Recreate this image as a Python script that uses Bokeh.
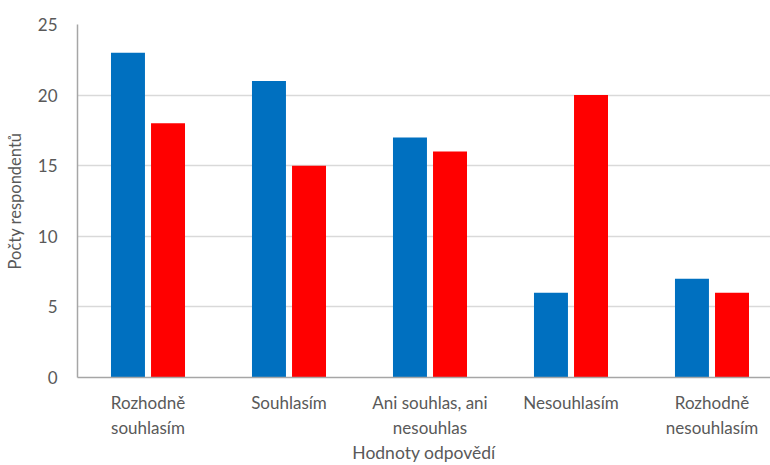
import numpy as np
from bokeh.plotting import figure
from bokeh.models import Range1d, FixedTicker, ColumnDataSource
from bokeh.embed import file_html
from bokeh.resources import INLINE

categories = ["Rozhodně\nsouhlasím", "Souhlasím", "Ani souhlas, ani\nnesouhlas", "Nesouhlasím", "Rozhodně\nnesouhlasím"]
blue_values = [23, 21, 17, 6, 7]
red_values = [18, 15, 16, 20, 6]
y_ticks = [0, 5, 10, 15, 20, 25]

centers = np.arange(len(categories)) + 0.5
FONT = "Lato"
GREY = "#595959"

p = figure(width=770, height=465, output_backend="svg", toolbar_location=None,
           x_range=Range1d(0, 4.915), y_range=Range1d(0, 25),
           min_border_left=77, min_border_right=0, min_border_top=24, min_border_bottom=87)
p.outline_line_color = None

src1 = ColumnDataSource(dict(x=centers - 0.142, b=blue_values))
src2 = ColumnDataSource(dict(x=centers + 0.142, r=red_values))
p.vbar(x="x", top="b", width=0.241, source=src1, fill_color="#0070C0", line_color=None)
p.vbar(x="x", top="r", width=0.241, source=src2, fill_color="#FF0000", line_color=None)

p.xaxis.ticker = FixedTicker(ticks=list(centers))
p.xaxis.major_label_overrides = {float(c): lab for c, lab in zip(centers, categories)}
p.yaxis.ticker = FixedTicker(ticks=y_ticks)

for ax in (p.xaxis, p.yaxis):
    ax.major_tick_line_color = None
    ax.minor_tick_line_color = None
    ax.axis_line_color = "#A6A6A6"
    ax.axis_line_width = 1.5
    ax.major_label_text_font = FONT
    ax.major_label_text_color = GREY
    ax.axis_label_text_font = FONT
    ax.axis_label_text_color = GREY
    ax.axis_label_text_font_style = "normal"

p.xaxis.major_label_text_font_size = "17px"
p.yaxis.major_label_text_font_size = "17px"
p.xaxis.major_label_standoff = 8
p.yaxis.major_label_standoff = 14
p.xaxis.axis_label = "Hodnoty odpovědí"
p.yaxis.axis_label = "Počty respondentů"
p.xaxis.axis_label_text_font_size = "17.5px"
p.yaxis.axis_label_text_font_size = "16.5px"
p.xaxis.axis_label_standoff = 1
p.yaxis.axis_label_standoff = 10

p.xgrid.grid_line_color = None
p.ygrid.grid_line_color = "#D9D9D9"
p.ygrid.grid_line_width = 1.5

open("out.html", "w").write(file_html(p, INLINE))
